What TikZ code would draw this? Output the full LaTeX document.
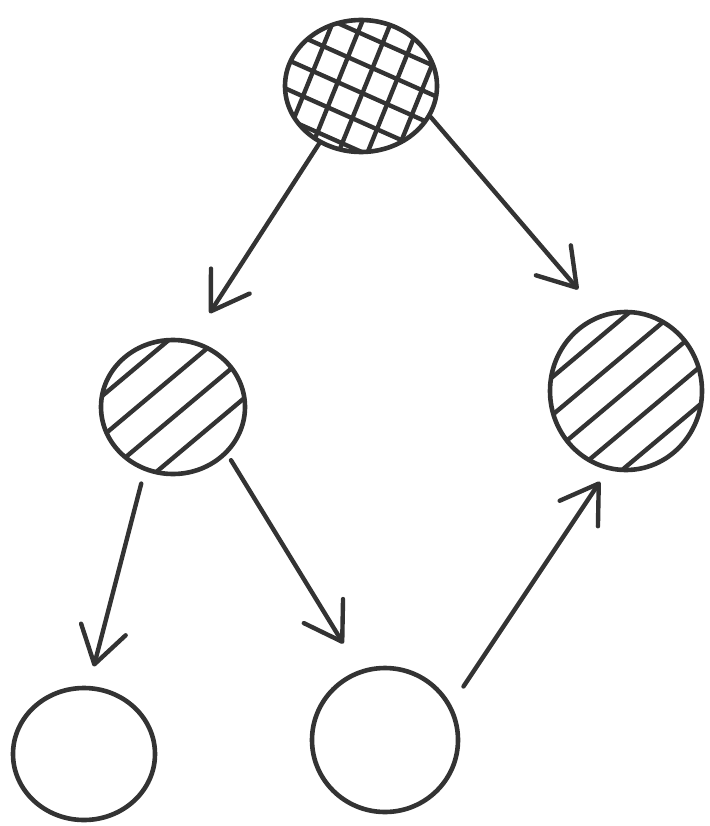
\documentclass[tikz,border=0pt]{standalone}
\usetikzlibrary{shapes.geometric,arrows.meta}
\definecolor{ink}{HTML}{333333}
\begin{document}
\begin{tikzpicture}[x=1pt,y=-1pt,
  ball/.style={ellipse,draw=ink,line width=4.6pt,inner sep=0pt},
  hatch/.style={draw=ink,line width=4.4pt,line cap=round},
  arr/.style={draw=ink,line width=4.4pt,line cap=round,
    -{Straight Barb[length=36pt,width=46pt,line cap=round,line join=round]}}]
\useasboundingbox (0,0) rectangle (709,826);

% hatching, clipped to each ball
\begin{scope}[shift={(361,86)}]
  \clip (0,0) ellipse [x radius=76pt, y radius=66pt];
  \foreach \k in {-4,...,4} {
    \draw[hatch,rotate=-24] (-130,\k*27+6) -- (130,\k*27+6);
    \draw[hatch,rotate=68] (-130,\k*27+4) -- (130,\k*27+4);
  }
\end{scope}
\begin{scope}[shift={(173,407)}]
  \clip (0,0) ellipse [x radius=72pt, y radius=67pt];
  \foreach \k in {-3,...,3}
    \draw[hatch,rotate=40] (-130,\k*31+8) -- (130,\k*31+8);
\end{scope}
\begin{scope}[shift={(626,391)}]
  \clip (0,0) ellipse [x radius=76pt, y radius=79pt];
  \foreach \k in {-3,...,3}
    \draw[hatch,rotate=40] (-130,\k*29) -- (130,\k*29);
\end{scope}

% balls
\node[ball,minimum width=152pt,minimum height=132pt] (top) at (361,86) {};
\node[ball,minimum width=144pt,minimum height=134pt] (ml) at (173,407) {};
\node[ball,minimum width=152pt,minimum height=158pt] (rt) at (626,391) {};
\node[ball,minimum width=142pt,minimum height=132pt] (bl) at (84,754) {};
\node[ball,minimum width=146pt,minimum height=144pt] (bm) at (385,740) {};

% connectors
\draw[arr,shorten >=32pt] (top.-126) -- (ml.74);
\draw[arr,shorten >=33pt] (top.-24) -- (rt.109);
\draw[arr,shorten <=13pt,shorten >=20pt] (ml.-114) -- (bl.86);
\draw[arr,shorten <=7pt,shorten >=31pt] (ml.-41) -- (bm.110);
\draw[arr,shorten <=22pt,shorten >=14pt] (bm.28) -- (rt.-103);
\end{tikzpicture}
\end{document}
